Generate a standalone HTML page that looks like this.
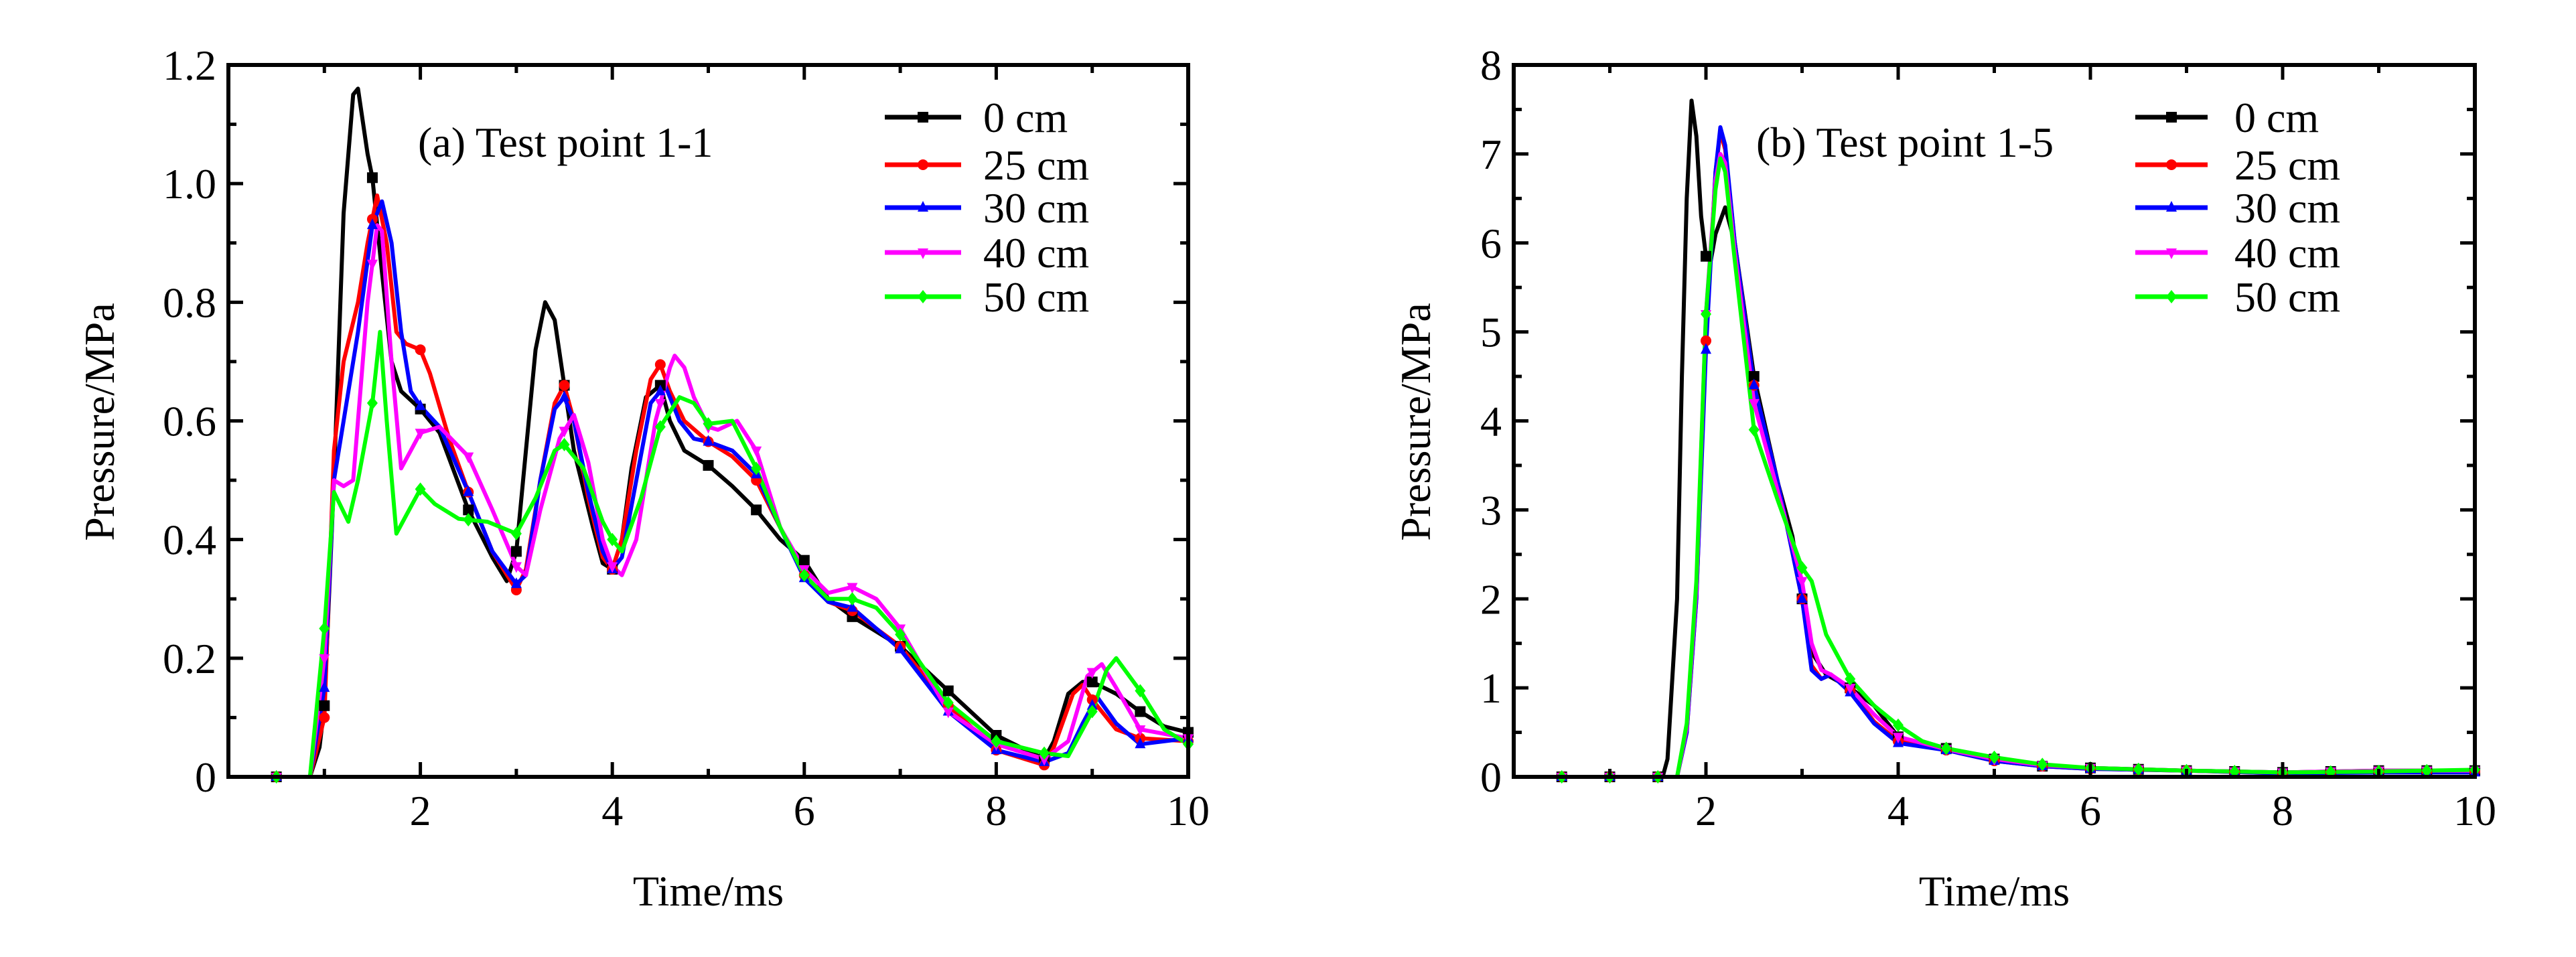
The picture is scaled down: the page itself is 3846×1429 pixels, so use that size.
<!DOCTYPE html>
<html><head><meta charset="utf-8"><style>
html,body{margin:0;padding:0;background:#fff;}
svg{display:block;}
text{font-family:"Liberation Serif","Times New Roman","Times","DejaVu Serif",serif;}
</style></head><body>
<svg id="fig" width="3846" height="1429" viewBox="0 0 3846 1429" xmlns="http://www.w3.org/2000/svg"></svg>
<script>
// ---- Data (a) Test point 1-1 ----
const seriesNames = ["0 cm","25 cm","30 cm","40 cm","50 cm"];
const seriesColors = ["#000000","#ff0000","#0000ff","#ff00ff","#00ff00"];
const markerShapes = ["square","circle","triangle","tridown","diamond"];
const xTicksA = [2,4,6,8,10];
const yTicksA = [0,0.2,0.4,0.6,0.8,1.0,1.2];
const yTickLabelsA = ["0","0.2","0.4","0.6","0.8","1.0","1.2"];
const xTicksB = [2,4,6,8,10];
const yTicksB = [0,1,2,3,4,5,6,7,8];
const yTickLabelsB = ["0","1","2","3","4","5","6","7","8"];

const a0T=[0,0.85,0.95,1.0,1.1,1.2,1.3,1.35,1.45,1.5,1.6,1.7,1.8,2.0,2.2,2.5,2.75,2.9,3.0,3.1,3.2,3.3,3.4,3.5,3.6,3.8,3.9,4.0,4.1,4.2,4.35,4.5,4.6,4.75,5.0,5.25,5.5,5.75,6.0,6.25,6.5,7.0,7.5,8.0,8.5,8.6,8.75,8.9,9.0,9.25,9.5,9.75,10];
const a0P=[0,0,0.05,0.12,0.5,0.95,1.15,1.16,1.05,1.01,0.85,0.7,0.65,0.62,0.58,0.45,0.37,0.33,0.38,0.55,0.72,0.80,0.77,0.66,0.55,0.42,0.36,0.35,0.40,0.52,0.64,0.66,0.60,0.55,0.525,0.49,0.45,0.40,0.365,0.30,0.27,0.22,0.145,0.07,0.03,0.06,0.14,0.16,0.16,0.14,0.11,0.085,0.075];
const a1T=[0,0.85,1.0,1.1,1.2,1.35,1.45,1.55,1.65,1.75,1.85,2.0,2.1,2.3,2.5,2.75,3.0,3.1,3.25,3.4,3.5,3.6,3.75,3.9,4.0,4.1,4.25,4.4,4.5,4.6,4.75,5.0,5.25,5.5,5.75,6.0,6.25,6.5,7.0,7.5,8.0,8.5,8.6,8.8,8.9,9.0,9.25,9.5,10];
const a1P=[0,0,0.1,0.55,0.7,0.8,0.9,0.98,0.9,0.75,0.73,0.72,0.68,0.57,0.48,0.38,0.315,0.35,0.5,0.63,0.66,0.6,0.47,0.37,0.35,0.4,0.55,0.67,0.695,0.65,0.6,0.565,0.54,0.5,0.42,0.34,0.295,0.28,0.22,0.12,0.045,0.02,0.05,0.14,0.155,0.13,0.08,0.065,0.06];
const a2T=[0,0.85,1.0,1.1,1.2,1.35,1.5,1.6,1.7,1.8,1.9,2.0,2.2,2.5,2.75,3.0,3.1,3.25,3.4,3.5,3.6,3.75,3.9,4.0,4.1,4.25,4.4,4.55,4.7,4.85,5.0,5.25,5.5,5.75,6.0,6.25,6.5,7.0,7.5,8.0,8.5,8.75,8.9,9.05,9.25,9.5,10];
const a2P=[0,0,0.15,0.5,0.6,0.75,0.93,0.97,0.9,0.75,0.65,0.625,0.59,0.48,0.38,0.325,0.34,0.5,0.62,0.64,0.6,0.48,0.38,0.35,0.37,0.5,0.63,0.66,0.6,0.57,0.565,0.55,0.51,0.42,0.335,0.295,0.285,0.215,0.11,0.045,0.025,0.04,0.09,0.135,0.09,0.055,0.065];
const a3T=[0,0.85,1.0,1.1,1.2,1.3,1.45,1.55,1.6,1.7,1.8,1.9,2.0,2.2,2.5,2.75,3.0,3.1,3.25,3.45,3.6,3.75,3.9,4.0,4.1,4.25,4.45,4.6,4.65,4.75,4.85,5.0,5.1,5.3,5.5,5.75,6.0,6.25,6.5,6.75,7.0,7.5,8.0,8.5,8.75,8.95,9.1,9.25,9.5,10];
const a3P=[0,0,0.2,0.5,0.49,0.5,0.8,0.93,0.92,0.7,0.52,0.55,0.58,0.59,0.54,0.45,0.355,0.34,0.45,0.57,0.61,0.53,0.4,0.355,0.34,0.4,0.6,0.69,0.71,0.69,0.64,0.59,0.585,0.6,0.55,0.42,0.35,0.31,0.32,0.3,0.25,0.11,0.055,0.03,0.06,0.17,0.19,0.15,0.08,0.065];
const a4T=[0,0.85,1.0,1.1,1.25,1.35,1.5,1.58,1.65,1.75,1.85,2.0,2.15,2.4,2.7,3.0,3.2,3.4,3.5,3.7,3.9,4.0,4.1,4.3,4.5,4.7,4.85,5.0,5.25,5.5,5.75,6.0,6.25,6.5,6.75,7.0,7.5,8.0,8.5,8.75,9.0,9.15,9.25,9.5,9.75,10];
const a4P=[0,0,0.25,0.48,0.43,0.5,0.63,0.75,0.6,0.41,0.44,0.485,0.46,0.435,0.43,0.41,0.47,0.55,0.56,0.52,0.43,0.40,0.38,0.47,0.59,0.64,0.63,0.595,0.6,0.52,0.42,0.34,0.3,0.3,0.285,0.24,0.125,0.06,0.04,0.035,0.11,0.18,0.2,0.145,0.08,0.055];

// ---- Data (b) Test point 1-5 ----
const b0T=[0,1.55,1.6,1.7,1.75,1.8,1.85,1.9,1.95,2.0,2.05,2.1,2.2,2.3,2.5,2.75,2.9,3.0,3.1,3.25,3.5,3.75,4.0,4.25,4.5,5.0,5.5,6,7,8,9,10];
const b0P=[0,0,0.2,2,4.5,6.5,7.6,7.2,6.3,5.85,5.8,6.1,6.4,6.0,4.5,3.3,2.7,2.0,1.4,1.15,1.0,0.8,0.45,0.35,0.32,0.2,0.12,0.1,0.07,0.05,0.07,0.07];
const b1T=[0,1.7,1.8,1.9,2.0,2.1,2.15,2.2,2.3,2.5,2.75,3.0,3.1,3.2,3.3,3.5,3.75,4.0,4.5,5,5.5,6,7,8,9,10];
const b1P=[0,0,0.5,2,4.9,6.8,7.25,7.05,6.0,4.4,3.3,2.0,1.25,1.1,1.15,0.97,0.62,0.4,0.3,0.18,0.12,0.09,0.07,0.04,0.06,0.06];
const b2T=[0,1.7,1.8,1.9,2.0,2.1,2.15,2.2,2.3,2.5,2.75,3.0,3.1,3.2,3.3,3.5,3.75,4.0,4.5,5,5.5,6,7,8,9,10];
const b2P=[0,0,0.5,2,4.8,6.8,7.3,7.1,6.0,4.4,3.3,2.0,1.2,1.1,1.15,0.95,0.6,0.38,0.3,0.18,0.12,0.09,0.07,0.04,0.05,0.05];
const b3T=[0,1.7,1.8,1.9,2.0,2.1,2.15,2.2,2.3,2.5,2.75,3.0,3.1,3.2,3.3,3.5,3.75,4.0,4.5,5,5.5,6,7,8,9,10];
const b3P=[0,0,0.55,2.1,5.2,6.7,7.0,6.9,5.9,4.2,3.2,2.2,1.5,1.2,1.15,1.0,0.7,0.45,0.31,0.2,0.13,0.1,0.07,0.05,0.07,0.07];
const b4T=[0,1.7,1.8,1.9,2.0,2.1,2.15,2.2,2.3,2.5,2.75,3.0,3.1,3.25,3.5,3.75,4.0,4.25,4.5,5,5.5,6,7,8,9,10];
const b4P=[0,0,0.6,2.2,5.2,6.6,6.95,6.8,5.8,3.9,3.1,2.35,2.2,1.6,1.1,0.8,0.58,0.4,0.32,0.22,0.14,0.1,0.07,0.05,0.06,0.08];

const NS="http://www.w3.org/2000/svg";
const svg=document.getElementById('fig');
function mk(tag,attrs,parent){const e=document.createElementNS(NS,tag);for(const k in attrs)e.setAttribute(k,attrs[k]);(parent||svg).appendChild(e);return e;}
function txt(attrs,parent){return mk('text',attrs,parent);}
function interp(T,P,t){for(let i=1;i<T.length;i++){if(t<=T[i]){const f=(t-T[i-1])/(T[i]-T[i-1]||1);return P[i-1]+f*(P[i]-P[i-1]);}}return P[P.length-1];}
function marker(g,shape,cx,cy,col){
  const s=8;let e;
  if(shape==="square")e=mk('rect',{x:cx-s,y:cy-s,width:2*s,height:2*s,fill:col},g);
  else if(shape==="circle")e=mk('circle',{cx:cx,cy:cy,r:s,fill:col},g);
  else if(shape==="triangle")e=mk('polygon',{points:`${cx},${cy-s-2} ${cx-s},${cy+s-2} ${cx+s},${cy+s-2}`,fill:col},g);
  else if(shape==="tridown")e=mk('polygon',{points:`${cx},${cy+s+2} ${cx-s},${cy-s+2} ${cx+s},${cy-s+2}`,fill:col},g);
  else e=mk('polygon',{points:`${cx},${cy-s-2} ${cx+s},${cy} ${cx},${cy+s+2} ${cx-s},${cy}`,fill:col},g);
  
  
}

function panel(o){
  const g=mk('g',{});
  
  
  const L=o.L,R=o.R,T=97,B=1160;
  const xs=v=>L+(v/10)*(R-L);
  const ys=v=>B-(v/o.ymax)*(B-T);
  const sg=mk('g',{},g);
  
  
  o.data.forEach((d,i)=>{
    const pts=d[0].map((t,j)=>xs(t).toFixed(1)+','+ys(d[1][j]).toFixed(1)).join(' ');
    const pl=mk('polyline',{points:pts,fill:'none',stroke:seriesColors[i],'stroke-width':6,'stroke-linejoin':'round'},sg);
    
    
  });
  o.data.forEach((d,i)=>{
    for(let t=0.5;t<=10.001;t+=0.5){marker(sg,markerShapes[i],xs(t),ys(interp(d[0],d[1],t)),seriesColors[i]);}
  });
  const fr=mk('rect',{x:L,y:T,width:R-L,height:B-T,fill:'none',stroke:'#000','stroke-width':6},g);
  
  
  for(let v=1;v<10;v++){
    const major=(v%2===0),len=major?22:12,x=xs(v);
    const t1=mk('line',{x1:x,y1:B,x2:x,y2:B-len,stroke:'#000','stroke-width':5},g);
    
    
    const t2=mk('line',{x1:x,y1:T,x2:x,y2:T+len,stroke:'#000','stroke-width':5},g);
    
    
  }
  o.xt.forEach(v=>{
    const tx=txt({x:xs(v),y:B+72,'font-size':64,'text-anchor':'middle'},g);
    tx.textContent=String(v);
    
    
  });
  const nMinor=o.yt.length*2-1;
  for(let k=1;k<nMinor-1;k++){
    const v=k*o.ymax/(nMinor-1),major=(k%2===0),len=major?22:12,y=ys(v);
    const t1=mk('line',{x1:L,y1:y,x2:L+len,y2:y,stroke:'#000','stroke-width':5},g);
    
    
    const t2=mk('line',{x1:R,y1:y,x2:R-len,y2:y,stroke:'#000','stroke-width':5},g);
    
    
  }
  o.yt.forEach((v,i)=>{
    const tx=txt({x:L-18,y:ys(v)+22,'font-size':64,'text-anchor':'end'},g);
    tx.textContent=o.ytl[i];
    
    
  });
  const xt=txt({x:(L+R)/2,y:1352,'font-size':64,'text-anchor':'middle'},g);
  xt.textContent='Time/ms';
  
  
  const yt=txt({x:o.ylx,y:630,'font-size':64,'text-anchor':'middle',transform:`rotate(-90 ${o.ylx} 630)`},g);
  yt.textContent='Pressure/MPa';
  
  
  const ti=txt({x:o.tx,y:234,'font-size':64},g);
  ti.textContent=o.title;
  
  
  const lg=mk('g',{},g);
  
  
  const ly=[175,246,310,377,443];
  seriesNames.forEach((n,i)=>{
    const eg=mk('g',{},lg);
    
    
    mk('line',{x1:o.lx1,y1:ly[i],x2:o.lx2,y2:ly[i],stroke:seriesColors[i],'stroke-width':7},eg);
    marker(eg,markerShapes[i],(o.lx1+o.lx2)/2,ly[i],seriesColors[i]);
    const tx=txt({x:o.ltx,y:ly[i]+22,'font-size':64},eg);
    tx.textContent=n;
  });
}
panel({name:'chart-a',L:341,R:1774,ymax:1.2,xt:xTicksA,yt:yTicksA,ytl:yTickLabelsA,ylx:170,tx:624,title:'(a) Test point 1-1',lx1:1321,lx2:1435,ltx:1468,
  data:[[a0T,a0P],[a1T,a1P],[a2T,a2P],[a3T,a3P],[a4T,a4P]]});
panel({name:'chart-b',L:2260,R:3695,ymax:8,xt:xTicksB,yt:yTicksB,ytl:yTickLabelsB,ylx:2135,tx:2622,title:'(b) Test point 1-5',lx1:3188,lx2:3296,ltx:3336,
  data:[[b0T,b0P],[b1T,b1P],[b2T,b2P],[b3T,b3P],[b4T,b4P]]});
</script>
</body></html>
